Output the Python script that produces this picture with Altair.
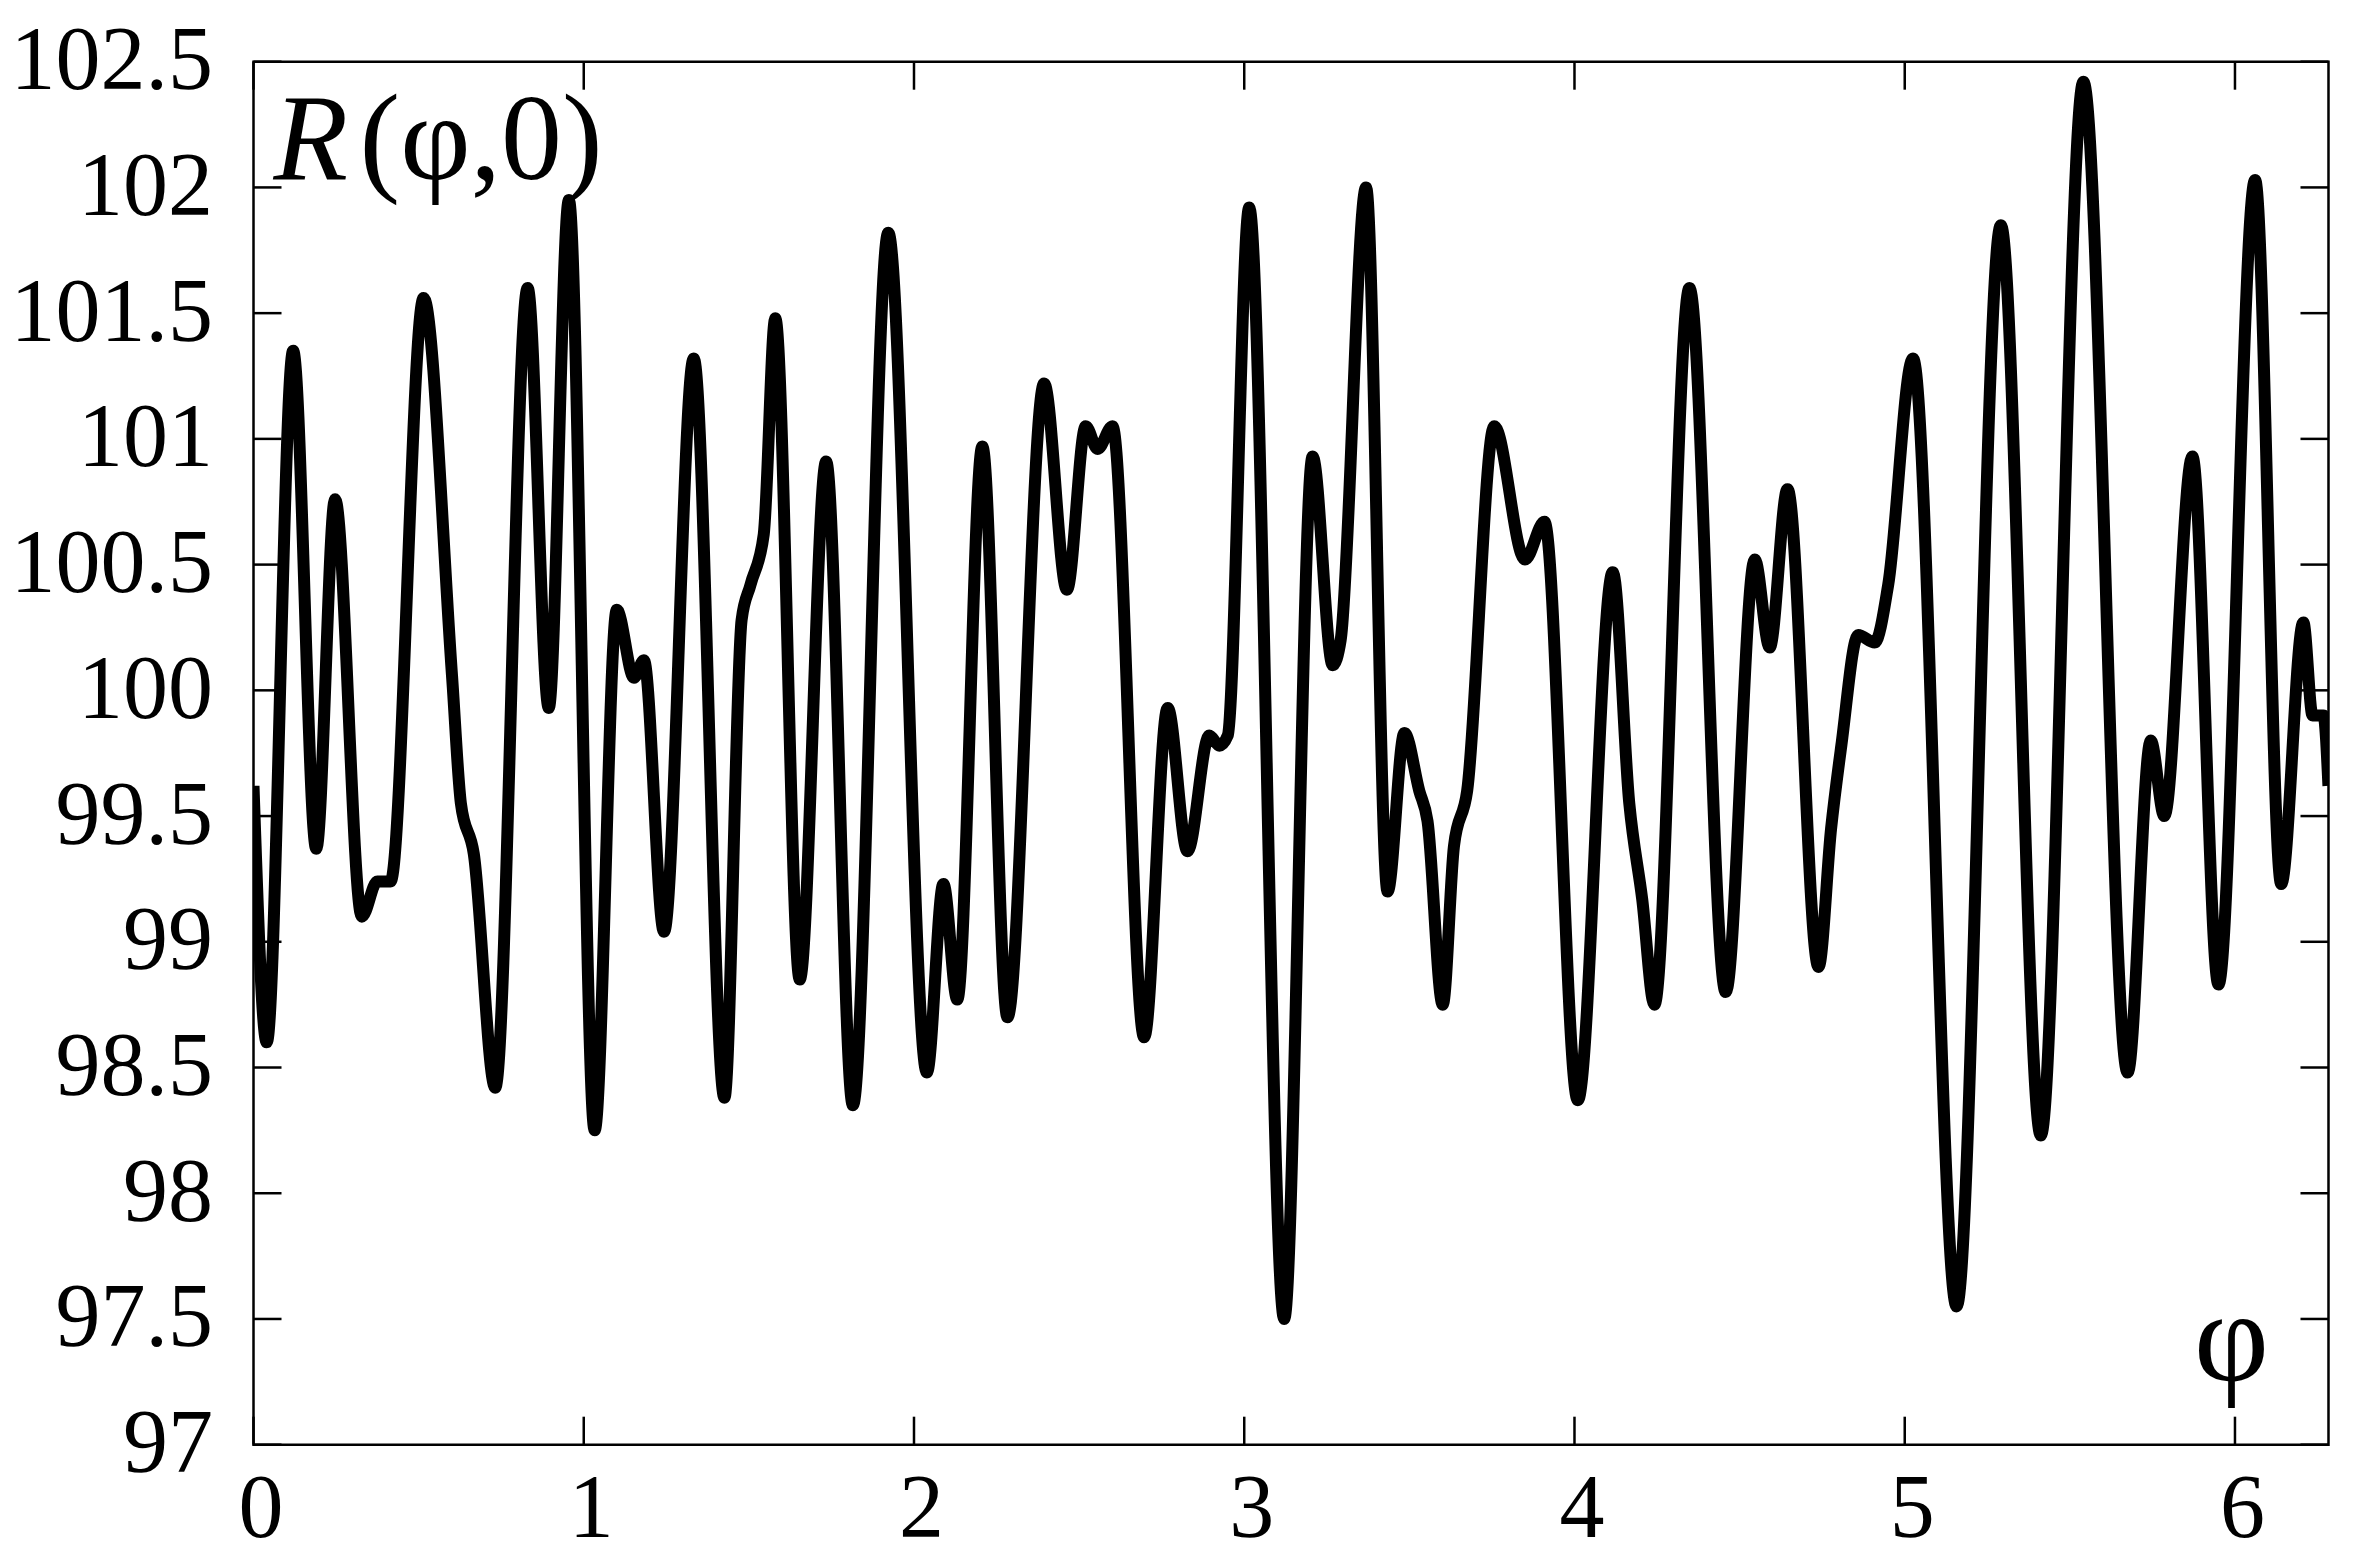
import altair as alt
import pandas as pd

# ---- data ----
phi = [
    0.000, 0.040, 0.120, 0.190, 0.247, 0.328, 0.375, 0.415, 0.515, 0.601,
    0.628, 0.667, 0.732, 0.830, 0.894, 0.955, 1.033, 1.100, 1.152, 1.182,
    1.243, 1.333, 1.426, 1.478, 1.505, 1.545, 1.580, 1.654, 1.734, 1.815,
    1.922, 2.039, 2.089, 2.131, 2.207, 2.283, 2.394, 2.463, 2.520, 2.556,
    2.601, 2.697, 2.768, 2.828, 2.894, 2.925, 2.950, 3.015, 3.121, 3.207,
    3.268, 3.292, 3.369, 3.434, 3.485, 3.530, 3.555, 3.601, 3.635, 3.675,
    3.757, 3.850, 3.909, 4.010, 4.116, 4.166, 4.205, 4.242, 4.348, 4.458,
    4.546, 4.591, 4.645, 4.739, 4.777, 4.808, 4.859, 4.909, 4.950, 5.025,
    5.157, 5.291, 5.412, 5.541, 5.675, 5.745, 5.786, 5.871, 5.950, 6.061,
    6.140, 6.207, 6.235, 6.268, 6.283,
]
R = [
    99.62, 98.60, 101.35, 99.37, 100.76, 99.10, 99.24, 99.24, 101.56, 100.06,
    99.55, 99.35, 98.42, 101.60, 99.93, 101.95, 98.25, 100.32, 100.05, 100.12,
    99.04, 101.32, 98.38, 100.28, 100.42, 100.62, 101.48, 98.85, 100.91, 98.35,
    101.82, 98.48, 99.23, 98.77, 100.97, 98.70, 101.22, 100.40, 101.05, 100.96,
    101.05, 98.62, 99.93, 99.36, 99.82, 99.78, 99.82, 101.92, 97.50, 100.93,
    100.10, 100.20, 102.00, 99.20, 99.83, 99.60, 99.48, 98.75, 99.38, 99.60,
    101.05, 100.52, 100.67, 98.37, 100.47, 99.55, 99.17, 98.75, 101.60, 98.80,
    100.52, 100.17, 100.80, 98.90, 99.45, 99.78, 100.22, 100.19, 100.42, 101.32,
    97.55, 101.85, 98.23, 102.42, 98.48, 99.80, 99.50, 100.93, 98.83, 102.03,
    99.23, 100.27, 99.90, 99.90, 99.62,
]
x_ticks = [0, 1, 2, 3, 4, 5, 6]
y_ticks = [97, 97.5, 98, 98.5, 99, 99.5, 100, 100.5, 101, 101.5, 102, 102.5]

W, H = 2075, 1383
TICK = 28
FONT = "Liberation Serif"

df = pd.DataFrame({"phi": phi, "R": R})
xt = pd.DataFrame({"phi": x_ticks})
yt = pd.DataFrame({"R": y_ticks})

xs = alt.Scale(domain=[0, 6.283185], nice=False, zero=False)
ys = alt.Scale(domain=[97, 102.5], nice=False, zero=False)

x_axis = alt.Axis(
    values=x_ticks, ticks=False, tickSize=0, domain=False, grid=False,
    labelFont=FONT, labelFontSize=90, labelColor="black", labelPadding=21,
    labelOffset=7, format="d", title=None, labelFlush=False, labelLimit=0)
y_axis = alt.Axis(
    values=y_ticks, ticks=False, tickSize=0, domain=False, grid=False,
    labelFont=FONT, labelFontSize=90, labelColor="black", labelPadding=41,
    format="~f", title=None, labelFlush=False, labelOverlap=False, labelLimit=0)

X = alt.X("phi:Q", scale=xs, axis=x_axis)
Y = alt.Y("R:Q", scale=ys, axis=y_axis)

line = alt.Chart(df).mark_line(
    color="black", strokeWidth=12, interpolate="monotone", clip=True,
    strokeJoin="round"
).encode(x=X, y=Y)

tick_style = dict(color="black", strokeWidth=2.5)
bot = alt.Chart(xt).mark_rule(**tick_style).encode(
    x=X, y=alt.value(H), y2=alt.value(H - TICK))
top = alt.Chart(xt).mark_rule(**tick_style).encode(
    x=X, y=alt.value(0), y2=alt.value(TICK))
left = alt.Chart(yt).mark_rule(**tick_style).encode(
    y=Y, x=alt.value(0), x2=alt.value(TICK))
right = alt.Chart(yt).mark_rule(**tick_style).encode(
    y=Y, x=alt.value(W), x2=alt.value(W - TICK))

lab_R = alt.Chart(pd.DataFrame({"s": ["R"]})).mark_text(
    font=FONT, fontSize=122, fontStyle="italic", align="left",
    baseline="alphabetic", color="black"
).encode(text="s:N", x=alt.value(20), y=alt.value(117))
lab_rest = alt.Chart(pd.DataFrame({"s": ["(\u03c6,0)"]})).mark_text(
    font=FONT, fontSize=122, align="left", baseline="alphabetic", color="black"
).encode(text="s:N", x=alt.value(106), y=alt.value(117))
lab_phi = alt.Chart(pd.DataFrame({"s": ["\u03c6"]})).mark_text(
    font=FONT, fontSize=130, align="center", baseline="alphabetic", color="black"
).encode(text="s:N", x=alt.value(1978), y=alt.value(1318))

chart = alt.layer(line, bot, top, left, right, lab_R, lab_rest, lab_phi).properties(
    width=W, height=H,
    autosize=alt.AutoSizeParams(type="none"),
    padding={"left": 245.5, "top": 53.7, "right": 14, "bottom": 115},
    background="white",
).configure_view(stroke="black", strokeWidth=2.5)

chart.save("out.html", embed_options={"renderer": "svg", "actions": False})
